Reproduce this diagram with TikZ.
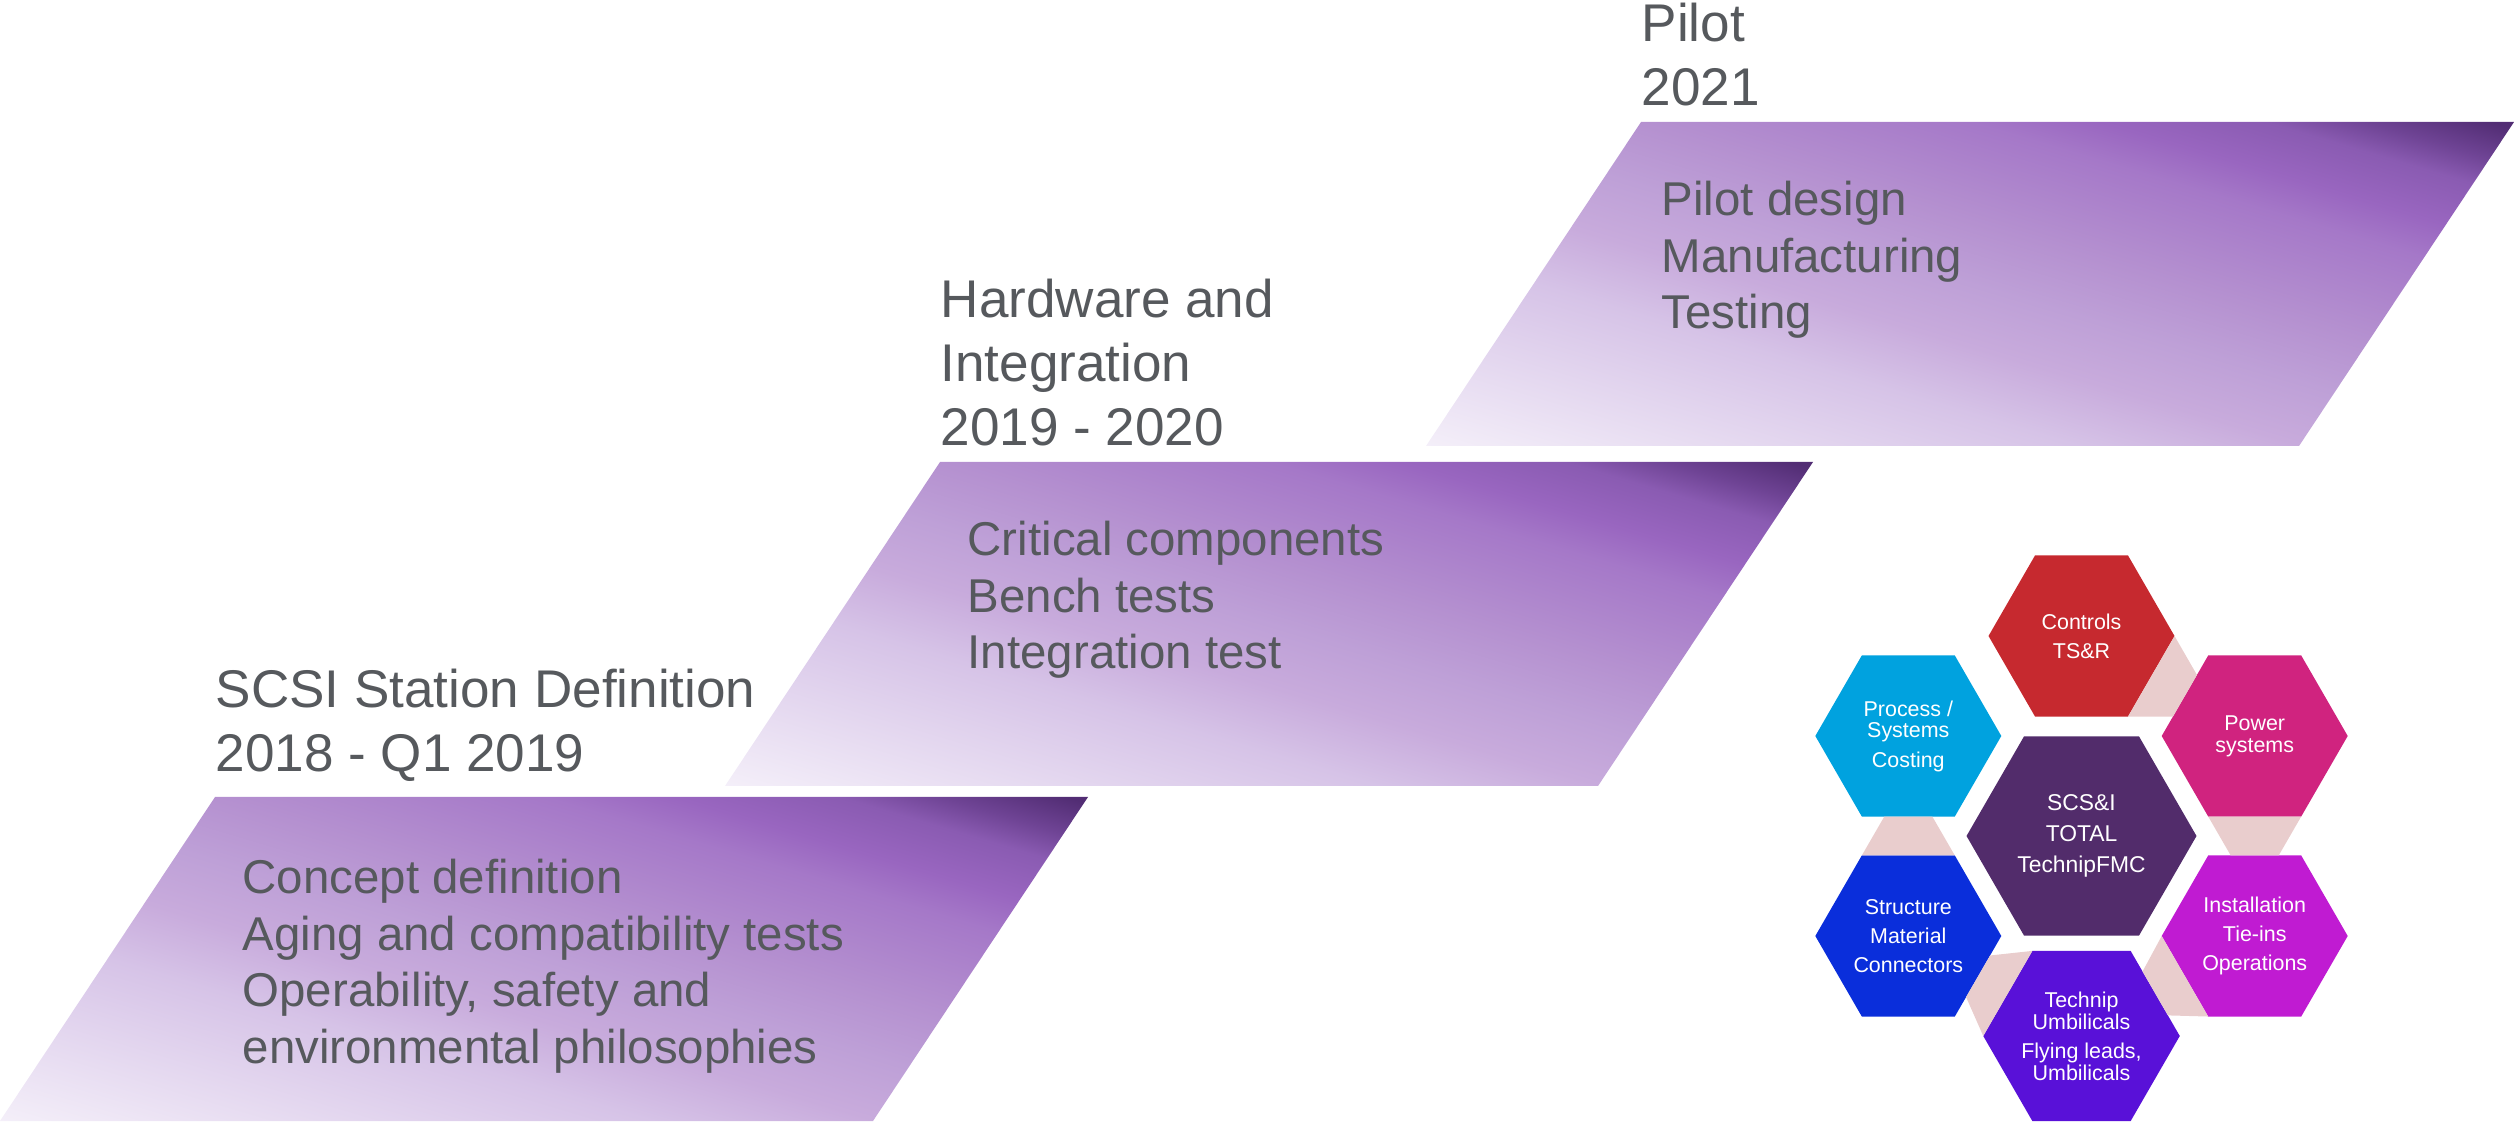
\documentclass[tikz,border=0pt]{standalone}
\usepackage{fontspec}
\setmainfont{Liberation Sans}
\usepackage{xcolor}
\usetikzlibrary{positioning,shapes.geometric,calc}
\definecolor{cinza}{HTML}{56595D}
\definecolor{faseA}{HTML}{F7F3FB}
\definecolor{faseB}{HTML}{F4EFF9}
\definecolor{faseC}{HTML}{D6C3E7}
\definecolor{faseD}{HTML}{C8ABDC}
\definecolor{faseE}{HTML}{BEA0D7}
\definecolor{faseF}{HTML}{B591D0}
\definecolor{faseG}{HTML}{A578C8}
\definecolor{faseH}{HTML}{9966C0}
\definecolor{faseI}{HTML}{8A5BB2}
\definecolor{faseJ}{HTML}{6F4495}
\definecolor{faseK}{HTML}{522D74}
\definecolor{elo}{HTML}{E9CDCD}
\definecolor{corNucleo}{HTML}{522C6B}
\definecolor{corControle}{HTML}{C6292F}
\definecolor{corPotencia}{HTML}{D0237F}
\definecolor{corInstalacao}{HTML}{C01BD2}
\definecolor{corUmbilical}{HTML}{5911D8}
\definecolor{corEstrutura}{HTML}{0A2EDB}
\definecolor{corProcesso}{HTML}{00A2DF}
% gradient runs left to right; it is turned onto the diagonal of each band below
\pgfdeclarehorizontalshading{gradfase}{100bp}{%
    color(0bp)=(faseA); color(25bp)=(faseB); color(40bp)=(faseC);
    color(45.2bp)=(faseD); color(50bp)=(faseE); color(54.8bp)=(faseF);
    color(62.5bp)=(faseG); color(65.5bp)=(faseH); color(69.3bp)=(faseI);
    color(71.6bp)=(faseJ); color(74.5bp)=(faseK); color(100bp)=(faseK)}
\tikzset{
    fase/.style={shading=gradfase},
    titulo/.style={
        inner sep=0pt,
        align=left,
        text=cinza,
        font=\fontsize{15.1}{18.2}\selectfont
    },
    itens/.style={
        inner sep=0pt,
        align=left,
        text=cinza,
        font=\fontsize{13.5}{16.2}\selectfont
    },
    hexa/.style={
        regular polygon,
        regular polygon sides=6,
        minimum size=1.86cm,
        inner sep=0pt,
        outer sep=0pt,
        align=center,
        text=white,
        font=\fontsize{6.1}{6.2}\selectfont
    },
    nucleo/.style={hexa, minimum size=2.30cm, font=\fontsize{6.5}{8.8}\selectfont},
    ligacao/.style={fill=elo}
}

\begin{document}
\begin{tikzpicture}[on grid]
    \useasboundingbox (0,0) rectangle (25.14,-11.24);

    \coordinate (f1) at (2.15,-7.97);
    \coordinate (f2) at (9.40,-4.62);
    \coordinate (f3) at (16.41,-1.22);

    \foreach \f/\cx/\cy in {f1/5.44/-9.59, f2/12.69/-6.24, f3/19.70/-2.84}{
        \begin{scope}
            \clip (\f) -- ++(8.73,0) -- ++(-2.15,-3.24) -- ++(-8.73,0) -- cycle;
            \shade[fase, transform canvas={shift={(\cx,\cy)}, xscale=5.44, yscale=1.62, rotate=45, scale=1.4142}]
                (-1,-1) rectangle (1,1);
        \end{scope}
    }

    \node[titulo, above right=0.15cm and 0cm of f1] (t1) {SCSI Station Definition\\2018 - Q1 2019};
    \node[titulo, above right=0.15cm and 0cm of f2] (t2) {Hardware and\\Integration\\2019 - 2020};
    \node[titulo, above right=0.15cm and 0cm of f3] (t3) {Pilot\\2021};

    \node[itens, below right=0.61cm and 0.27cm of f1] (i1) {Concept definition\\Aging and compatibility tests\\Operability, safety and\\environmental philosophies};
    \node[itens, below right=0.58cm and 0.27cm of f2] (i2) {Critical components\\Bench tests\\Integration test};
    \node[itens, below right=0.58cm and 0.20cm of f3] (i3) {Pilot design\\Manufacturing\\Testing};

    \node[nucleo, fill=corNucleo] (core) at (20.815,-8.36) {SCS\&I\\TOTAL\\TechnipFMC};
    \node[hexa, fill=corControle, above=2.0cm of core] (ctl) {Controls\\[2.1pt]TS\&R};
    \node[hexa, fill=corPotencia, above right=1.0cm and 1.732cm of core] (pow) {Power\\systems};
    \node[hexa, fill=corInstalacao, below right=1.0cm and 1.732cm of core] (ins) {Installation\\[2.1pt]Tie-ins\\[2.1pt]Operations};
    \node[hexa, fill=corUmbilical, below=2.0cm of core] (umb) {Technip\\Umbilicals\\[2.1pt]Flying leads,\\Umbilicals};
    \node[hexa, fill=corEstrutura, below left=1.0cm and 1.732cm of core] (str) {Structure\\[2.1pt]Material\\[2.1pt]Connectors};
    \node[hexa, fill=corProcesso, above left=1.0cm and 1.732cm of core] (prc) {Process /\\Systems\\[2.1pt]Costing};

    \foreach \a/\b/\t [evaluate=\t as \tp using int(\t+30),
                       evaluate=\t as \tm using int(\t-30),
                       evaluate=\t as \tq using int(\t+150),
                       evaluate=\t as \tr using int(\t+210)]
        in {ctl/pow/-30, pow/ins/-90, ins/umb/-150, umb/str/150, str/prc/90}
        \fill[ligacao] (\a.\tp) -- ($(\b.\tq)!0.242!(\b.\tr)$)
            -- ($(\b.\tr)!0.242!(\b.\tq)$) -- (\a.\tm) -- cycle;
\end{tikzpicture}
\end{document}
